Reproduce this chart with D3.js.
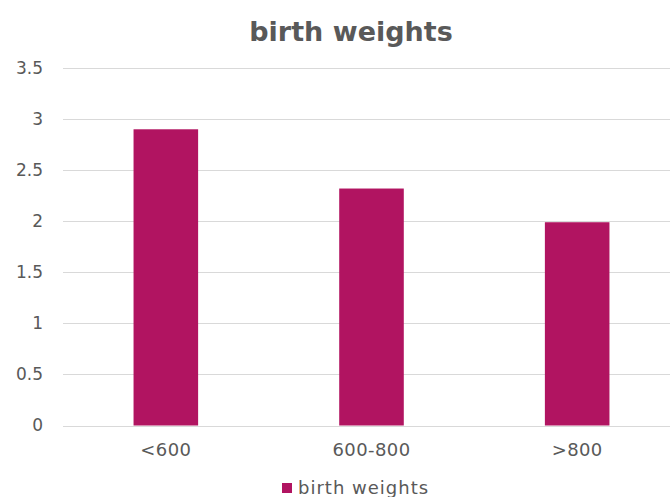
<!DOCTYPE html>
<html>
<head>
<meta charset="utf-8">
<script src="https://cdn.jsdelivr.net/npm/d3@7"></script>
<style>
  html, body { margin: 0; padding: 0; background: #fff; }
  svg { display: block; }
  text { font-family: "DejaVu Sans", sans-serif; fill: #595959; }
</style>
</head>
<body>
<script>
// Chart data
const categories = ["<600", "600-800", ">800"];
const seriesName = "birth weights";
const values = [2.9, 2.32, 1.99];
const yTicks = [0, 0.5, 1, 1.5, 2, 2.5, 3, 3.5];

const W = 670, H = 497;
const margin = { top: 68, right: -10, bottom: 71, left: 63 };
const barColor = "#B11461";

const svg = d3.select("body").append("svg")
  .attr("width", W).attr("height", H);

const x = d3.scaleBand()
  .domain(categories)
  .range([margin.left, W - margin.right])
  .paddingInner(0.686)
  .paddingOuter(0.343);

const y = d3.scaleLinear()
  .domain([0, 3.5])
  .range([H - margin.bottom - 0.5, margin.top]);

// Horizontal gridlines
svg.append("g")
  .selectAll("line")
  .data(yTicks)
  .join("line")
  .attr("x1", margin.left)
  .attr("x2", W)
  .attr("y1", d => Math.round(y(d)) + 0.5)
  .attr("y2", d => Math.round(y(d)) + 0.5)
  .attr("stroke", "#d9d9d9")
  .attr("stroke-width", 1);

// Y axis labels
const yAxis = d3.axisLeft(y)
  .tickValues(yTicks)
  .tickFormat(d3.format("~g"))
  .tickSize(0)
  .tickPadding(20);

svg.append("g")
  .attr("transform", `translate(${margin.left},0)`)
  .call(yAxis)
  .call(g => g.select(".domain").remove())
  .call(g => g.selectAll("text")
    .attr("font-family", "DejaVu Sans, sans-serif")
    .attr("font-size", 17)
    .attr("fill", "#595959"));

// Bars
svg.append("g")
  .selectAll("rect")
  .data(values)
  .join("rect")
  .attr("x", (d, i) => x(categories[i]))
  .attr("width", x.bandwidth())
  .attr("y", d => y(d))
  .attr("height", d => y(0) - y(d))
  .attr("fill", barColor);

// X axis labels
const xAxis = d3.axisBottom(x).tickSize(0).tickPadding(18);
svg.append("g")
  .attr("transform", `translate(0,${y(0)})`)
  .call(xAxis)
  .call(g => g.select(".domain").remove())
  .call(g => g.selectAll("text")
    .attr("font-family", "DejaVu Sans, sans-serif")
    .attr("font-size", 18)
    .attr("letter-spacing", 0.4)
    .attr("fill", "#595959"));

// Title
svg.append("text")
  .attr("x", 351)
  .attr("y", 41)
  .attr("text-anchor", "middle")
  .attr("font-size", 27)
  .attr("font-weight", "bold")
  .text(seriesName);

// Legend
const legend = svg.append("g").attr("transform", "translate(282,483)");
legend.append("rect")
  .attr("width", 10).attr("height", 10)
  .attr("fill", barColor);
legend.append("text")
  .attr("x", 16)
  .attr("y", 11)
  .attr("font-size", 18)
  .attr("letter-spacing", 1)
  .text(seriesName);
</script>
</body>
</html>
